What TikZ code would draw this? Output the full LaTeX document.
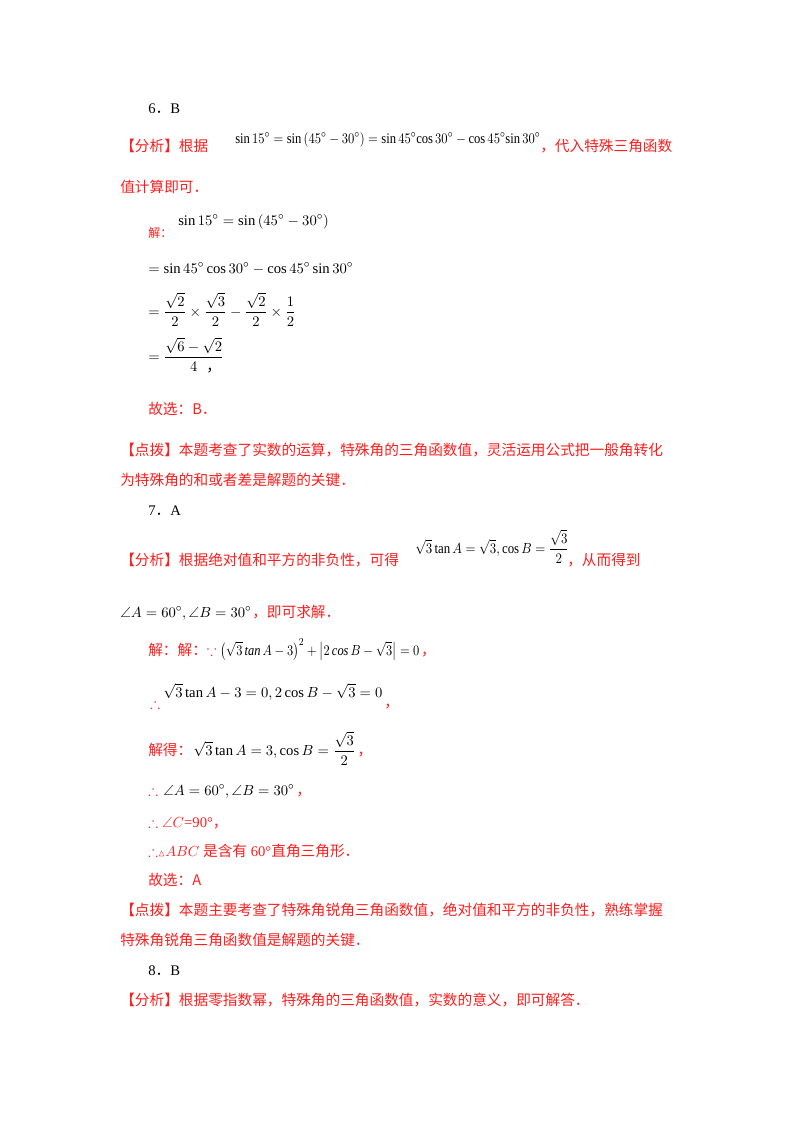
\documentclass[tikz,border=0pt]{standalone}
\usepackage{amsmath,amssymb,graphicx}
\usepackage{fontspec}
\setmainfont{Liberation Serif}
\newfontfamily\cjk{Noto Sans CJK SC}
\definecolor{ans}{RGB}{255,30,30}
\begin{document}
\begin{tikzpicture}[x=0.75pt,y=-0.75pt,
  t/.style={anchor=base west,inner sep=0pt,font=\fontsize{11}{13}\selectfont},
  r/.style={t,text=ans},
  k/.style={t,text=black}]
\useasboundingbox (0,0) rectangle (800,1132);
\fill[white] (0,0) rectangle (800,1132);
\node[k] (n1) at (148,113) {6{\cjk ．}B};
\node[r] (a1) at (120,151) {\cjk 【分析】根据};
\node[k] (f1) at (235,143) {\scalebox{0.86}[1]{$\sin15^\circ=\sin\left(45^\circ-30^\circ\right)=\sin45^\circ\!\cos30^\circ-\cos45^\circ\!\sin30^\circ$}};
\node[r] (a2) at (540,151) {\cjk ，代入特殊三角函数};
\node[r] (a3) at (120,192) {\cjk 值计算即可．};
\node[k] (f2) at (178,225) {$\sin15^\circ=\sin\left(45^\circ-30^\circ\right)$};
\node[r] (j1) at (148,237) {\cjk\small 解：};
\node[k] (f3) at (148,273) {$=\sin45^\circ\cos30^\circ-\cos45^\circ\sin30^\circ$};
\node[k] (f4) at (148,316) {$=\dfrac{\sqrt2}{2}\times\dfrac{\sqrt3}{2}-\dfrac{\sqrt2}{2}\times\dfrac12$};
\node[k] (f5) at (148,361) {$=\dfrac{\sqrt6-\sqrt2}{4}$};
\node[k] (c0) at (206,371) {\cjk ，};
\node[r] (g1) at (148,414) {\cjk 故选：B．};
\node[r] (d1) at (120,455) {\cjk 【点拨】本题考查了实数的运算，特殊角的三角函数值，灵活运用公式把一般角转化};
\node[r] (d2) at (120,485) {\cjk 为特殊角的和或者差是解题的关键．};
\node[k] (n2) at (148,515) {7{\cjk ．}A};
\node[r] (a4) at (120,565) {\cjk 【分析】根据绝对值和平方的非负性，可得};
\node[k] (f6) at (415,553) {\scalebox{0.88}[1]{$\sqrt3\tan A=\sqrt3,\cos B=\dfrac{\sqrt3}{2}$}};
\node[r] (a5) at (567,565) {\cjk ，从而得到};
\node[k] (f7) at (120,617) {$\angle A=60^\circ,\angle B=30^\circ$};
\node[r] (a6) at (252,617) {\cjk ，即可求解．};
\node[r] (s1) at (148,655) {\cjk 解：解：$\because$};
\node[k] (f8) at (220,655) {\scalebox{0.85}[1]{$\left(\sqrt3\,\mathit{tan}\,A-3\right)^2+\left|2\,\mathit{cos}\,B-\sqrt3\right|=0$}};
\node[r] (c1) at ([xshift=1pt]f8.base east) {\cjk ，};
\node[r] (s2) at (150,708) {$\therefore$};
\node[k] (f9) at (163,697) {$\sqrt3\tan A-3=0,2\cos B-\sqrt3=0$};
\node[r] (c2) at ([xshift=1pt,yshift=-8pt]f9.base east) {\cjk ，};
\node[r] (s3) at (148,755) {\cjk 解得：};
\node[k] (f10) at (193,755) {$\sqrt3\tan A=3,\cos B=\dfrac{\sqrt3}{2}$};
\node[r] (c3) at ([xshift=1pt]f10.base east) {\cjk ，};
\node[r] (s4) at (148,795) {$\therefore$};
\node[k] (f11) at (163,795) {$\angle A=60^\circ,\angle B=30^\circ$};
\node[r] (c4) at ([xshift=1pt]f11.base east) {\cjk ，};
\node[r] (s5) at (148,827) {$\therefore\angle C$=90°{\cjk ，}};
\node[r] (s6) at (148,856) {$\therefore${\scriptsize$\vartriangle$}$ABC$ {\cjk 是含有} 60°{\cjk 直角三角形．}};
\node[r] (g2) at (148,885) {\cjk 故选：A};
\node[r] (d3) at (120,915) {\cjk 【点拨】本题主要考查了特殊角锐角三角函数值，绝对值和平方的非负性，熟练掌握};
\node[r] (d4) at (120,945) {\cjk 特殊角锐角三角函数值是解题的关键．};
\node[k] (n3) at (148,975) {8{\cjk ．}B};
\node[r] (a7) at (120,1005) {\cjk 【分析】根据零指数幂，特殊角的三角函数值，实数的意义，即可解答．};
\end{tikzpicture}
\end{document}
